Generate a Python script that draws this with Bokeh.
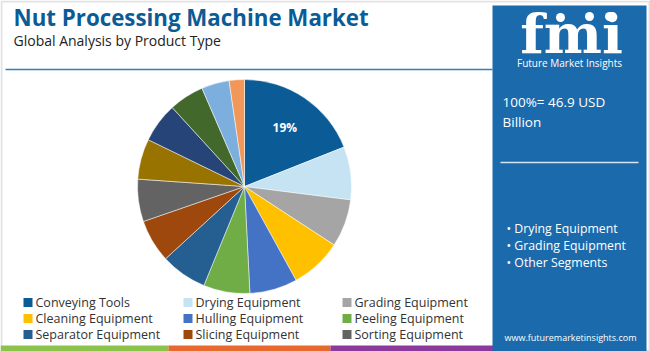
import math
from bokeh.plotting import figure
from bokeh.models import Range1d, ColumnDataSource
from bokeh.core.properties import value
from bokeh.embed import file_html
from bokeh.resources import INLINE

W, H = 650, 351

title = "Nut Processing Machine Market"
subtitle = "Global Analysis by Product Type"
categories = ["Conveying Tools", "Drying Equipment", "Grading Equipment",
              "Cleaning Equipment", "Hulling Equipment", "Peeling Equipment",
              "Separator Equipment", "Slicing Equipment", "Sorting Equipment",
              "Segment 10", "Segment 11", "Segment 12", "Segment 13", "Segment 14"]
shares = [19.0, 8.0, 7.2, 7.8, 7.2, 7.0, 7.0, 6.5, 6.4, 6.1, 6.0, 5.3, 4.2, 2.3]
colors = ["#0b5c96", "#c5e3f2", "#a5a5a5", "#ffc000", "#4472c4", "#70ad47",
          "#255e91", "#9e480e", "#636363", "#997300", "#264478", "#43682b",
          "#7cafdd", "#f1975a"]
legend_count = 9
total_label = ["100%= 46.9 USD", "Billion"]
key_segments = ["Drying Equipment", "Grading Equipment", "Other Segments"]
site = "www.futuremarketinsights.com"


def Y(py):
    return H - py


p = figure(width=W, height=H, output_backend="svg", toolbar_location=None,
           x_range=Range1d(0, W), y_range=Range1d(0, H), min_border=0)
p.axis.visible = False
p.grid.visible = False
p.outline_line_color = None
p.background_fill_color = "white"
p.border_fill_color = "white"

# outer light border
p.quad(left=1, right=W - 1, bottom=1, top=H - 1, fill_color=None,
       line_color="#e2e2e2", line_width=2)

# title
p.text(x=[13], y=[Y(17)], text=[title], text_font=value("Open Sans"),
       text_font_style="bold", text_font_size="22.3px", text_color="#0b5c96",
       text_baseline="middle")
p.text(x=[13], y=[Y(40)], text=[subtitle], text_font=value("Open Sans"),
       text_font_size="14px", text_color="#222222", text_baseline="middle")
p.segment(x0=[5], y0=[Y(69)], x1=[492], y1=[Y(69)], line_color="#2f7fbf",
          line_width=1.5)

# pie
total = sum(shares)
cx, cy, r = 244, Y(186), 107
starts, ends = [], []
cum = 0.0
for s in shares:
    a0 = math.pi / 2 - 2 * math.pi * (cum + s) / total
    a1 = math.pi / 2 - 2 * math.pi * cum / total
    starts.append(a0)
    ends.append(a1)
    cum += s
src = ColumnDataSource(dict(start=starts, end=ends, color=colors, cat=categories))
p.wedge(x=cx, y=cy, radius=r, start_angle="start", end_angle="end",
        fill_color="color", line_color="white", line_width=0.5, source=src)

mid = (starts[0] + ends[0]) / 2
p.text(x=[cx + 0.67 * r * math.cos(mid)], y=[cy + 0.67 * r * math.sin(mid)],
       text=[f"{shares[0]:.0f}%"], text_font=value("Open Sans"),
       text_font_style="bold", text_font_size="12px", text_color="white",
       text_align="center", text_baseline="middle")

# legend
col_x = [23, 183, 342]
row_y = [302, 318, 334]
for i in range(legend_count):
    cxl = col_x[i % 3]
    ry = row_y[i // 3]
    p.rect(x=[cxl + 4.5], y=[Y(ry)], width=9, height=9, fill_color=colors[i],
           line_color=None)
    p.text(x=[cxl + 12], y=[Y(ry)], text=[categories[i]],
           text_font=value("Open Sans"), text_font_size="12.5px",
           text_color="#333333", text_baseline="middle")

# bottom stripes
p.quad(left=[0, 168, 330], right=[168, 330, 494], bottom=[0, 0, 0],
       top=[Y(345)] * 3, fill_color=["#8bc34a", "#e8692e", "#8b3a9c"],
       line_color=None)

# right panel
p.quad(left=[492], right=[646], bottom=[0], top=[Y(5)], fill_color="#1b6aac",
       line_color=None)
p.text(x=[571], y=[Y(33)], text=["fmi"], text_font=value("DejaVu Serif"),
       text_font_style="bold", text_font_size="55px", text_color="white",
       text_align="center", text_baseline="middle")
p.circle(x=[560, 589, 609], y=[Y(17), Y(16), Y(16)], radius=4.5,
         fill_color="white", line_color=None)
p.text(x=[569], y=[Y(62)], text=["Future Market Insights"],
       text_font=value("Open Sans"), text_font_size="10px", text_color="white",
       text_align="center", text_baseline="middle")
p.text(x=[502, 502], y=[Y(101), Y(121)], text=total_label,
       text_font=value("Open Sans"), text_font_size="13.5px", text_color="white",
       text_baseline="middle")
p.segment(x0=[500], y0=[Y(162)], x1=[638], y1=[Y(162)], line_color="#d6e6f3",
          line_width=1.5)
p.text(x=[506] * 3, y=[Y(228), Y(245), Y(262)],
       text=["\u2022 " + s for s in key_segments], text_font=value("Open Sans"),
       text_font_size="12.3px", text_color="white", text_baseline="middle")
p.text(x=[570], y=[Y(337)], text=[site], text_font=value("Open Sans"),
       text_font_size="9px", text_color="white", text_align="center",
       text_baseline="middle")

open("out.html", "w").write(file_html(p, INLINE))
